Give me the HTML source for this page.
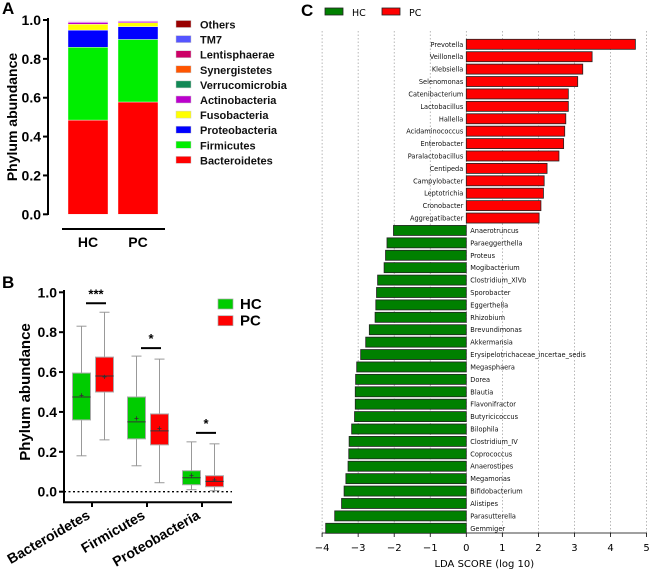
<!DOCTYPE html>
<html><head><meta charset="utf-8"><style>
html,body{margin:0;padding:0;background:#fff;width:650px;height:571px;overflow:hidden}
svg{display:block}
.b{font-family:"Liberation Sans",Arial,sans-serif;font-weight:bold}
.c{font-family:"DejaVu Sans","Liberation Sans",sans-serif}
</style></head><body>
<svg id="fig" width="650" height="571" xmlns="http://www.w3.org/2000/svg">
<g id="pa"></g>
<g id="pb"></g>
<g id="pc"></g>
</svg>
<script>
// ---------- Panel A data ----------
const phyla = ["Bacteroidetes","Firmicutes","Proteobacteria","Fusobacteria","Actinobacteria","Verrucomicrobia","Synergistetes","Lentisphaerae","TM7","Others"];
const phylaColors = ["#ff0000","#00ee00","#0000ff","#ffff00","#bb00cc","#118855","#ff5500","#cc0066","#5555ff","#990000"];
const groupsA = ["HC","PC"];
const hcStack = [0.485,0.375,0.088,0.030,0.010,0.002,0.001,0.001,0.002,0.002];
const pcStack = [0.578,0.322,0.066,0.020,0.007,0.002,0.001,0.001,0.001,0.002];
const ticksA = ["0.0","0.2","0.4","0.6","0.8","1.0"];

// ---------- Panel B data ----------
const catsB = ["Bacteroidetes","Firmicutes","Proteobacteria"];
const hcMin = [0.18,0.13,0.01], hcQ1 = [0.36,0.265,0.035], hcMed = [0.475,0.35,0.07], hcMean = [0.485,0.37,0.085], hcQ3 = [0.595,0.475,0.105], hcMax = [0.83,0.68,0.25];
const pcMin = [0.26,0.045,0.005], pcQ1 = [0.50,0.235,0.025], pcMed = [0.58,0.305,0.052], pcMean = [0.578,0.32,0.06], pcQ3 = [0.675,0.39,0.08], pcMax = [0.90,0.665,0.24];
const sigLevel = [0.945,0.72,0.295];
const sigText = ["***","*","*"];
const ticksB = ["0.0","0.2","0.4","0.6","0.8","1.0"];

// ---------- Panel C data ----------
const taxa = ["Prevotella","Veillonella","Klebsiella","Selenomonas","Catenibacterium","Lactobacillus","Hallella","Acidaminococcus","Enterobacter","Paralactobacillus","Centipeda","Campylobacter","Leptotrichia","Cronobacter","Aggregatibacter","Anaerotruncus","Paraeggerthella","Proteus","Mogibacterium","Clostridium_XlVb","Sporobacter","Eggerthella","Rhizobium","Brevundimonas","Akkermansia","Erysipelotrichaceae_incertae_sedis","Megasphaera","Dorea","Blautia","Flavonifractor","Butyricicoccus","Bilophila","Clostridium_IV","Coprococcus","Anaerostipes","Megamonas","Bifidobacterium","Alistipes","Parasutterella","Gemmiger"];
const ldaScores = [4.69,3.49,3.23,3.09,2.83,2.83,2.76,2.73,2.70,2.57,2.24,2.16,2.14,2.07,2.02,-2.02,-2.20,-2.24,-2.28,-2.46,-2.49,-2.51,-2.53,-2.69,-2.79,-2.93,-3.04,-3.07,-3.08,-3.08,-3.10,-3.18,-3.25,-3.26,-3.28,-3.34,-3.39,-3.46,-3.65,-3.90];
const ticksC = [-4,-3,-2,-1,0,1,2,3,4,5];

const NS="http://www.w3.org/2000/svg";
function mk(parent,tag,attrs,text){const e=document.createElementNS(NS,tag);for(const k in attrs)e.setAttribute(k,attrs[k]);if(text!==undefined)e.textContent=text;parent.appendChild(e);return e;}

// ===== Panel A =====
(function(){
const g=document.getElementById('pa');
const yA=v=>214.3-v*194.3;
let t=mk(g,'text',{x:2,y:14,class:'b','font-size':17},'A');


let ax=mk(g,'line',{x1:48,y1:18,x2:48,y2:215,stroke:'#000','stroke-width':2});


ticksA.forEach(s=>{const v=parseFloat(s);
 mk(g,'line',{x1:43,x2:48,y1:yA(v),y2:yA(v),stroke:'#000','stroke-width':2});
 const tl=mk(g,'text',{x:41,y:yA(v)+5,'text-anchor':'end',class:'b','font-size':14},s);
 
 });
t=mk(g,'text',{x:0,y:0,class:'b','font-size':14,'text-anchor':'middle',transform:'translate(17,117) rotate(-90)'},'Phylum abundance');


mk(g,'line',{x1:62,x2:165,y1:229,y2:229,stroke:'#000','stroke-width':2});
const xs=[68,118],w=40;
[hcStack,pcStack].forEach((arr,gi)=>{let cum=0;
 arr.forEach((v,i)=>{const r=mk(g,'rect',{x:xs[gi],y:yA(cum+v),width:w,height:Math.max(0,yA(cum)-yA(cum+v)),fill:phylaColors[i],stroke:'#fff','stroke-width':0.4});
  
  cum+=v;});
 const xl=mk(g,'text',{x:xs[gi]+w/2,y:247,'text-anchor':'middle',class:'b','font-size':14},groupsA[gi]);
 
 });
const order=[9,8,7,6,5,4,3,2,1,0];
order.forEach((pi,k)=>{const y=24+k*15.1;
 const r=mk(g,'rect',{x:176,y:y-3.5,width:15,height:7,fill:phylaColors[pi],stroke:'#ccc','stroke-width':0.5});
 
 
 const tt=mk(g,'text',{x:200,y:y+4.5,class:'b','font-size':11,fill:'#111'},phyla[pi]);
 
 });
})();

// ===== Panel B =====
(function(){
const g=document.getElementById('pb');
const yB=v=>491.7-v*199.4;
let t=mk(g,'text',{x:2,y:288,class:'b','font-size':17},'B');


mk(g,'line',{x1:64,y1:290,x2:64,y2:503,stroke:'#000','stroke-width':2});
mk(g,'line',{x1:63,y1:502.3,x2:232,y2:502.3,stroke:'#000','stroke-width':2});
ticksB.forEach(s=>{const v=parseFloat(s);
 mk(g,'line',{x1:59,x2:64,y1:yB(v),y2:yB(v),stroke:'#000','stroke-width':2});
 const tl=mk(g,'text',{x:57,y:yB(v)+5,'text-anchor':'end',class:'b','font-size':14},s);
 
 });
mk(g,'line',{x1:64,x2:232,y1:yB(0),y2:yB(0),stroke:'#000','stroke-width':1.3,'stroke-dasharray':'2,2.5'});
t=mk(g,'text',{x:0,y:0,class:'b','font-size':15,'text-anchor':'middle',transform:'translate(30,392) rotate(-90)'},'Phylum abundance');


const cx=[92,147,202],bw=18;
function box(c,min,q1,med,mean,q3,max,col,name){
 const gg=mk(g,'g',{});
 
 
 mk(gg,'line',{x1:c,x2:c,y1:yB(max),y2:yB(min),stroke:'#999','stroke-width':1});
 mk(gg,'line',{x1:c-5,x2:c+5,y1:yB(max),y2:yB(max),stroke:'#999','stroke-width':1});
 mk(gg,'line',{x1:c-5,x2:c+5,y1:yB(min),y2:yB(min),stroke:'#999','stroke-width':1});
 mk(gg,'rect',{x:c-bw/2,y:yB(q3),width:bw,height:yB(q1)-yB(q3),fill:col,stroke:'#aaa','stroke-width':1});
 mk(gg,'line',{x1:c-bw/2,x2:c+bw/2,y1:yB(med),y2:yB(med),stroke:'#333','stroke-width':1});
 mk(gg,'text',{x:c,y:yB(mean)+3,'text-anchor':'middle','font-size':8,class:'b',fill:'#333'},'+');
}
catsB.forEach((cn,i)=>{
 box(cx[i]-10.5,hcMin[i],hcQ1[i],hcMed[i],hcMean[i],hcQ3[i],hcMax[i],'#00cc00','box-hc-'+cn.toLowerCase());
 box(cx[i]+12.5,pcMin[i],pcQ1[i],pcMed[i],pcMean[i],pcQ3[i],pcMax[i],'#ff0000','box-pc-'+cn.toLowerCase());
 mk(g,'line',{x1:cx[i],x2:cx[i],y1:502,y2:507,stroke:'#000','stroke-width':2});
 const sl=mk(g,'line',{x1:cx[i]-6,x2:cx[i]+14,y1:yB(sigLevel[i]),y2:yB(sigLevel[i]),stroke:'#000','stroke-width':2});
 
 
 const st=mk(g,'text',{x:cx[i]+4,y:yB(sigLevel[i])-5,'text-anchor':'middle',class:'b','font-size':13},sigText[i]);
 
 
 const xl=mk(g,'text',{x:0,y:0,class:'b','font-size':14,'text-anchor':'end',transform:'translate('+(cx[i]-1)+',518) rotate(-30)'},cn);
 
 
});
[['HC','#00cc00',299],['PC','#ff0000',315.7]].forEach(([n,c,y])=>{
 const r=mk(g,'rect',{x:218,y:y,width:15,height:10,fill:c,stroke:'#aaa','stroke-width':0.7});
 
 
 const tt=mk(g,'text',{x:240,y:y+10,class:'b','font-size':15},n);
 
 });
})();

// ===== Panel C =====
(function(){
const g=document.getElementById('pc');
const x0=466.3,k=36.05;
const xC=v=>x0+v*k;
const yTop=44.3,step=12.41;
let t=mk(g,'text',{x:301,y:16,class:'b','font-size':17},'C');


[['HC','#008000',325],['PC','#ff0000',382]].forEach(([n,c,x])=>{
 const r=mk(g,'rect',{x:x,y:8,width:18,height:7,fill:c,stroke:'#222','stroke-width':0.8});
 
 
 const tt=mk(g,'text',{x:x+27,y:16,class:'c','font-size':9.5},n);
 
 });
ticksC.forEach(v=>{
 const gl=mk(g,'line',{x1:xC(v),x2:xC(v),y1:31,y2:533,stroke:'#999','stroke-width':0.7,'stroke-dasharray':'1.5,2'});
 
 
 mk(g,'line',{x1:xC(v),x2:xC(v),y1:533,y2:537,stroke:'#000','stroke-width':0.8});
 const tl=mk(g,'text',{x:xC(v),y:551,'text-anchor':'middle',class:'c','font-size':10},v<0?'\u2212'+(-v):String(v));
 
 });
mk(g,'line',{x1:xC(-4),x2:xC(5),y1:533,y2:533,stroke:'#000','stroke-width':0.8});
t=mk(g,'text',{x:xC(0.5),y:567,'text-anchor':'middle',class:'c','font-size':10},'LDA SCORE (log 10)');


taxa.forEach((n,i)=>{
 const v=ldaScores[i],y=yTop+i*step;
 const r=mk(g,'rect',{x:Math.min(xC(0),xC(v)),y:y-5,width:Math.abs(xC(v)-xC(0)),height:10,fill:v>0?'#ff0000':'#008000',stroke:'#222','stroke-width':0.8});
 
 
 const tl=mk(g,'text',{x:v>0?x0-3:x0+4,y:y+2.5,'text-anchor':v>0?'end':'start',class:'c','font-size':6.6,fill:'#111'},n);
 
 
});
})();
</script>
</body></html>
